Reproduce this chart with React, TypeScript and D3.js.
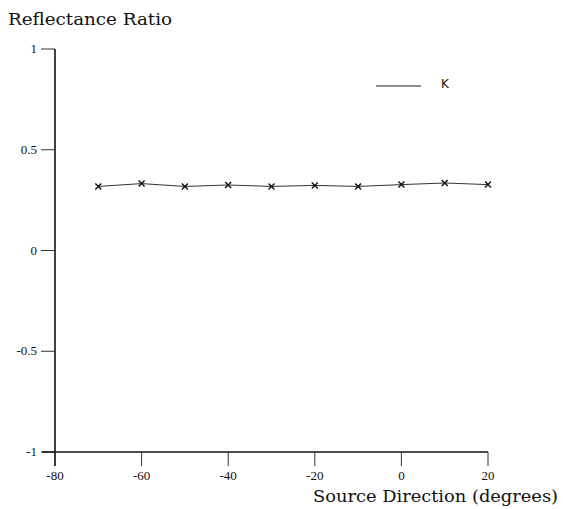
import React, { useEffect, useRef } from "react";
import * as d3 from "d3";

const angles = [-70, -60, -50, -40, -30, -20, -10, 0, 10, 20];
const ratioK = [0.318, 0.332, 0.318, 0.325, 0.318, 0.323, 0.318, 0.327, 0.335, 0.327];
const xTicks = [-80, -60, -40, -20, 0, 20];
const yTicks = [1, 0.5, 0, -0.5, -1];
const legendLabel = "K";

const App = () => {
  const svgRef = useRef<SVGSVGElement>(null);

  useEffect(() => {
    const width = 563;
    const height = 509;
    const svg = d3.select(svgRef.current);
    svg.selectAll("*").remove();
    svg.attr("width", width).attr("height", height);

    const serif = "'Liberation Serif', serif";
    const titleFont = "'DejaVu Serif', serif";

    const x = d3.scaleLinear().domain([-80, 20]).range([55, 488]);
    const y = d3.scaleLinear().domain([-1, 1]).range([452, 49]);

    const g = svg.append("g");

    // y axis
    g.append("line")
      .attr("x1", x(-80)).attr("x2", x(-80))
      .attr("y1", y(1)).attr("y2", 466)
      .attr("stroke", "#111").attr("stroke-width", 1.6);
    g.selectAll(".ytick")
      .data(yTicks)
      .join("line")
      .attr("x1", 41).attr("x2", x(-80))
      .attr("y1", (d) => y(d)).attr("y2", (d) => y(d))
      .attr("stroke", "#333").attr("stroke-width", 1);
    g.selectAll(".ylab")
      .data(yTicks)
      .join("text")
      .attr("x", 37)
      .attr("y", (d) => y(d) + 4)
      .attr("text-anchor", "end")
      .attr("font-family", serif)
      .attr("font-size", 13)
      .attr("fill", "#111")
      .text((d) => String(d));

    // x axis
    g.append("line")
      .attr("x1", 42).attr("x2", x(20))
      .attr("y1", y(-1)).attr("y2", y(-1))
      .attr("stroke", "#111").attr("stroke-width", 1.3);
    g.selectAll(".xtick")
      .data(xTicks)
      .join("line")
      .attr("x1", (d) => x(d)).attr("x2", (d) => x(d))
      .attr("y1", y(-1)).attr("y2", 466)
      .attr("stroke", "#333").attr("stroke-width", 1);
    g.selectAll(".xlab")
      .data(xTicks)
      .join("text")
      .attr("x", (d) => x(d))
      .attr("y", 480)
      .attr("text-anchor", "middle")
      .attr("font-family", serif)
      .attr("font-size", 13)
      .attr("fill", "#111")
      .text((d) => String(d));

    // titles
    svg.append("text")
      .attr("x", 8).attr("y", 25)
      .attr("font-family", titleFont).attr("font-size", 16)
      .attr("textLength", 164).attr("lengthAdjust", "spacingAndGlyphs")
      .attr("fill", "#111")
      .text("Reflectance Ratio");
    svg.append("text")
      .attr("x", 313).attr("y", 502)
      .attr("font-family", titleFont).attr("font-size", 16)
      .attr("textLength", 245).attr("lengthAdjust", "spacingAndGlyphs")
      .attr("fill", "#111")
      .text("Source Direction (degrees)");

    // series
    const pts = angles.map((a, i) => [a, ratioK[i]] as [number, number]);
    const line = d3.line<[number, number]>().x((d) => x(d[0])).y((d) => y(d[1]));
    g.append("path")
      .datum(pts)
      .attr("d", line)
      .attr("fill", "none")
      .attr("stroke", "#333")
      .attr("stroke-width", 1);

    const s = 3;
    g.selectAll(".mark")
      .data(pts)
      .join("path")
      .attr("d", (d) => {
        const cx = x(d[0]);
        const cy = y(d[1]);
        return `M${cx - s},${cy - s}L${cx + s},${cy + s}M${cx + s},${cy - s}L${cx - s},${cy + s}`;
      })
      .attr("stroke", "#111")
      .attr("stroke-width", 1.4);

    // legend
    g.append("line")
      .attr("x1", 376).attr("x2", 421)
      .attr("y1", 86).attr("y2", 86)
      .attr("stroke", "#222").attr("stroke-width", 1.2);
    g.append("text")
      .attr("x", 441).attr("y", 88)
      .attr("font-family", "'DejaVu Sans', sans-serif")
      .attr("font-size", 12)
      .attr("fill", "#111")
      .text(legendLabel);
  }, []);

  return <svg ref={svgRef} style={{ position: "absolute", left: 0, top: 0 }}></svg>;
};

export default App;
